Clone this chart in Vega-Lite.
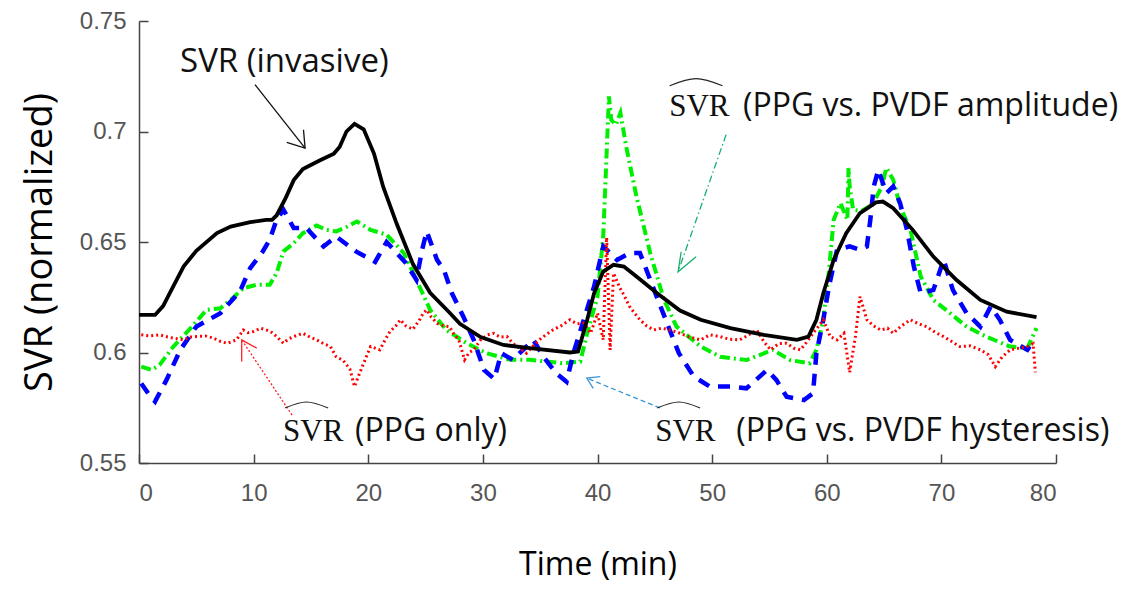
{
"$schema": "https://vega.github.io/schema/vega-lite/v6.json",
"width": 917, "height": 442,
"autosize": {"type": "none"},
"padding": {"left": 139, "top": 21, "right": 79, "bottom": 126},
"background": "white",
"config": {"view": {"stroke": null}},
"datasets": {
"inv": [
{"t":0,"v":0.617},{"t":1.4,"v":0.617},{"t":2.1,"v":0.621},{"t":3.0,"v":0.630},{"t":3.9,"v":0.639},{"t":5.0,"v":0.646},{"t":6.8,"v":0.654},{"t":8.0,"v":0.657},{"t":9.7,"v":0.659},{"t":11.1,"v":0.660},{"t":11.6,"v":0.660},{"t":12.0,"v":0.662},{"t":12.8,"v":0.670},{"t":13.5,"v":0.678},{"t":14.3,"v":0.683},{"t":15.8,"v":0.687},{"t":17.0,"v":0.690},{"t":17.5,"v":0.693},{"t":18.1,"v":0.700},{"t":18.8,"v":0.7035},{"t":19.6,"v":0.701},{"t":20.5,"v":0.690},{"t":21.3,"v":0.675},{"t":22.5,"v":0.658},{"t":23.9,"v":0.640},{"t":25.4,"v":0.627},{"t":27.1,"v":0.618},{"t":28.0,"v":0.613},{"t":29.8,"v":0.607},{"t":31.8,"v":0.6034},{"t":34.1,"v":0.602},{"t":37.6,"v":0.600},{"t":38.3,"v":0.6004},{"t":39.1,"v":0.6148},{"t":39.7,"v":0.6268},{"t":40.5,"v":0.6366},{"t":41.4,"v":0.6397},{"t":42.3,"v":0.6389},{"t":43.4,"v":0.6344},{"t":45.2,"v":0.6268},{"t":47.2,"v":0.619},{"t":49.0,"v":0.6148},{"t":51.6,"v":0.611},{"t":54.5,"v":0.608},{"t":57.4,"v":0.6057},{"t":58.4,"v":0.6072},{"t":59.1,"v":0.6148},{"t":59.7,"v":0.6268},{"t":60.6,"v":0.6419},{"t":61.7,"v":0.654},{"t":62.9,"v":0.6631},{"t":64.3,"v":0.6679},{"t":64.9,"v":0.6683},{"t":65.8,"v":0.6653},{"t":67.5,"v":0.6555},{"t":69.3,"v":0.6434},{"t":71.3,"v":0.6329},{"t":73.4,"v":0.6238},{"t":75.7,"v":0.6185},{"t":78.3,"v":0.616}
],
"amp": [
{"t":0.2,"v":0.5936},{"t":1.1,"v":0.5921},{"t":1.8,"v":0.5944},{"t":3.0,"v":0.6027},{"t":4.5,"v":0.611},{"t":5.9,"v":0.6193},{"t":7.1,"v":0.620},{"t":8.0,"v":0.6238},{"t":9.1,"v":0.6291},{"t":10.2,"v":0.6306},{"t":11.4,"v":0.6306},{"t":12.0,"v":0.6359},{"t":12.6,"v":0.6457},{"t":13.5,"v":0.6495},{"t":14.3,"v":0.654},{"t":15.5,"v":0.6575},{"t":16.3,"v":0.6555},{"t":17.2,"v":0.6548},{"t":18.2,"v":0.657},{"t":19.0,"v":0.6593},{"t":20.2,"v":0.6555},{"t":21.6,"v":0.6533},{"t":23.1,"v":0.645},{"t":24.2,"v":0.6329},{"t":25.4,"v":0.6193},{"t":26.8,"v":0.6102},{"t":28.6,"v":0.6042},{"t":30.3,"v":0.5997},{"t":32.4,"v":0.5967},{"t":34.1,"v":0.5967},{"t":37.0,"v":0.5951},{"t":38.5,"v":0.5959},{"t":39.1,"v":0.6087},{"t":40.0,"v":0.6253},{"t":40.5,"v":0.6525},{"t":41.0,"v":0.7159},{"t":41.2,"v":0.7053},{"t":41.6,"v":0.703},{"t":42.0,"v":0.7084},{"t":42.5,"v":0.6933},{"t":43.4,"v":0.6706},{"t":44.6,"v":0.645},{"t":45.8,"v":0.6238},{"t":46.9,"v":0.6117},{"t":49.0,"v":0.6027},{"t":50.7,"v":0.5981},{"t":53.0,"v":0.5966},{"t":55.3,"v":0.6012},{"t":56.8,"v":0.5966},{"t":58.5,"v":0.5951},{"t":59.1,"v":0.6012},{"t":59.7,"v":0.6148},{"t":60.2,"v":0.6374},{"t":60.6,"v":0.66},{"t":61.2,"v":0.6676},{"t":61.8,"v":0.66},{"t":61.9,"v":0.6835},{"t":62.0,"v":0.6751},{"t":62.3,"v":0.6646},{"t":63.0,"v":0.664},{"t":64.0,"v":0.667},{"t":64.8,"v":0.675},{"t":65.2,"v":0.6835},{"t":65.8,"v":0.6782},{"t":66.4,"v":0.6661},{"t":67.3,"v":0.6555},{"t":68.2,"v":0.6344},{"t":69.3,"v":0.6238},{"t":70.4,"v":0.6193},{"t":72.2,"v":0.6117},{"t":73.9,"v":0.6072},{"t":76.0,"v":0.6027},{"t":77.5,"v":0.602},{"t":78.3,"v":0.611}
],
"hys": [
{"t":0.2,"v":0.586},{"t":1.0,"v":0.580},{"t":1.4,"v":0.5778},{"t":2.4,"v":0.5876},{"t":3.6,"v":0.6012},{"t":5.0,"v":0.6117},{"t":7.1,"v":0.6178},{"t":8.8,"v":0.6276},{"t":9.7,"v":0.6382},{"t":10.8,"v":0.6457},{"t":11.4,"v":0.651},{"t":12.0,"v":0.660},{"t":12.6,"v":0.6646},{"t":13.5,"v":0.6563},{"t":14.6,"v":0.6563},{"t":16.1,"v":0.648},{"t":17.2,"v":0.6525},{"t":19.0,"v":0.6455},{"t":20.6,"v":0.641},{"t":21.6,"v":0.650},{"t":23.3,"v":0.6404},{"t":24.2,"v":0.6329},{"t":24.7,"v":0.6465},{"t":25.1,"v":0.6548},{"t":26.0,"v":0.6419},{"t":26.6,"v":0.6374},{"t":27.3,"v":0.6268},{"t":28.3,"v":0.6162},{"t":29.2,"v":0.6057},{"t":30.1,"v":0.5921},{"t":31.0,"v":0.588},{"t":31.6,"v":0.5997},{"t":32.6,"v":0.5967},{"t":34.4,"v":0.6057},{"t":35.3,"v":0.598},{"t":36.4,"v":0.5906},{"t":37.3,"v":0.5868},{"t":37.9,"v":0.5997},{"t":38.8,"v":0.6148},{"t":39.7,"v":0.6298},{"t":40.5,"v":0.648},{"t":41.1,"v":0.645},{"t":41.7,"v":0.6419},{"t":42.8,"v":0.645},{"t":43.7,"v":0.645},{"t":44.6,"v":0.6329},{"t":45.5,"v":0.6208},{"t":46.3,"v":0.6102},{"t":47.1,"v":0.5997},{"t":48.4,"v":0.5891},{"t":49.8,"v":0.5846},{"t":51.6,"v":0.5846},{"t":53.0,"v":0.5838},{"t":54.8,"v":0.5921},{"t":55.6,"v":0.5876},{"t":56.5,"v":0.580},{"t":58.0,"v":0.5785},{"t":58.8,"v":0.5815},{"t":59.1,"v":0.5997},{"t":59.7,"v":0.6148},{"t":60.2,"v":0.630},{"t":60.9,"v":0.6465},{"t":62.0,"v":0.648},{"t":62.9,"v":0.6465},{"t":63.5,"v":0.648},{"t":63.8,"v":0.660},{"t":64.1,"v":0.6751},{"t":64.5,"v":0.6827},{"t":65.2,"v":0.6721},{"t":65.8,"v":0.6751},{"t":66.4,"v":0.6676},{"t":67.0,"v":0.6555},{"t":67.6,"v":0.6389},{"t":68.2,"v":0.6268},{"t":69.3,"v":0.6283},{"t":70.2,"v":0.6419},{"t":71.0,"v":0.6283},{"t":72.2,"v":0.6178},{"t":73.4,"v":0.6117},{"t":74.3,"v":0.6208},{"t":75.1,"v":0.6148},{"t":76.0,"v":0.6057},{"t":77.5,"v":0.6012},{"t":78.1,"v":0.6057}
],
"ppg": [
{"t":0.2,"v":0.608},{"t":1.0,"v":0.6075},{"t":1.8,"v":0.608},{"t":2.5,"v":0.607},{"t":3.0,"v":0.6065},{"t":3.9,"v":0.6057},{"t":4.5,"v":0.607},{"t":5.0,"v":0.6072},{"t":5.8,"v":0.6075},{"t":6.5,"v":0.6065},{"t":7.1,"v":0.605},{"t":7.7,"v":0.6042},{"t":8.5,"v":0.6057},{"t":9.1,"v":0.6102},{"t":9.5,"v":0.609},{"t":10.0,"v":0.6095},{"t":10.6,"v":0.611},{"t":11.1,"v":0.6102},{"t":11.6,"v":0.609},{"t":12.0,"v":0.6072},{"t":12.6,"v":0.6042},{"t":13.0,"v":0.606},{"t":13.5,"v":0.6072},{"t":14.3,"v":0.6087},{"t":14.9,"v":0.607},{"t":15.5,"v":0.6057},{"t":16.1,"v":0.604},{"t":16.7,"v":0.6027},{"t":17.2,"v":0.5981},{"t":17.8,"v":0.5965},{"t":18.4,"v":0.5925},{"t":18.8,"v":0.5846},{"t":19.2,"v":0.590},{"t":19.6,"v":0.5951},{"t":20.2,"v":0.6027},{"t":21.0,"v":0.6012},{"t":21.5,"v":0.606},{"t":21.9,"v":0.6095},{"t":22.4,"v":0.612},{"t":22.8,"v":0.6148},{"t":23.3,"v":0.612},{"t":23.9,"v":0.6105},{"t":24.5,"v":0.615},{"t":24.8,"v":0.6178},{"t":25.1,"v":0.6193},{"t":25.5,"v":0.616},{"t":26.0,"v":0.6132},{"t":26.6,"v":0.612},{"t":27.1,"v":0.6117},{"t":27.5,"v":0.608},{"t":27.9,"v":0.6057},{"t":28.4,"v":0.5967},{"t":28.8,"v":0.600},{"t":29.2,"v":0.6012},{"t":29.8,"v":0.6057},{"t":30.4,"v":0.608},{"t":30.9,"v":0.6087},{"t":31.5,"v":0.607},{"t":32.1,"v":0.6072},{"t":32.6,"v":0.6042},{"t":33.2,"v":0.602},{"t":33.8,"v":0.5997},{"t":34.4,"v":0.603},{"t":34.9,"v":0.6057},{"t":35.5,"v":0.608},{"t":36.1,"v":0.6102},{"t":36.8,"v":0.612},{"t":37.6,"v":0.6148},{"t":38.2,"v":0.613},{"t":38.8,"v":0.6133},{"t":39.4,"v":0.6087},{"t":40.0,"v":0.6178},{"t":40.5,"v":0.6057},{"t":40.8,"v":0.652},{"t":41.1,"v":0.6012},{"t":41.4,"v":0.6359},{"t":41.9,"v":0.6298},{"t":42.3,"v":0.626},{"t":42.8,"v":0.6208},{"t":43.2,"v":0.618},{"t":43.7,"v":0.6148},{"t":44.3,"v":0.612},{"t":44.9,"v":0.6102},{"t":45.6,"v":0.611},{"t":46.3,"v":0.6102},{"t":47.2,"v":0.6087},{"t":48.0,"v":0.607},{"t":49.0,"v":0.6057},{"t":49.8,"v":0.608},{"t":50.7,"v":0.6072},{"t":51.5,"v":0.606},{"t":52.4,"v":0.6057},{"t":53.2,"v":0.608},{"t":53.9,"v":0.6102},{"t":54.5,"v":0.605},{"t":55.1,"v":0.6012},{"t":55.8,"v":0.604},{"t":56.5,"v":0.6042},{"t":57.1,"v":0.602},{"t":57.7,"v":0.6012},{"t":58.3,"v":0.605},{"t":58.8,"v":0.6087},{"t":59.3,"v":0.612},{"t":59.7,"v":0.6148},{"t":60.3,"v":0.6072},{"t":60.9,"v":0.6057},{"t":61.5,"v":0.6087},{"t":62.0,"v":0.591},{"t":62.5,"v":0.6072},{"t":62.9,"v":0.6253},{"t":63.5,"v":0.6148},{"t":64.1,"v":0.612},{"t":64.7,"v":0.6102},{"t":65.3,"v":0.611},{"t":65.8,"v":0.6087},{"t":66.5,"v":0.612},{"t":67.3,"v":0.6148},{"t":68.0,"v":0.613},{"t":68.7,"v":0.6117},{"t":69.5,"v":0.609},{"t":70.2,"v":0.6072},{"t":70.9,"v":0.605},{"t":71.6,"v":0.6027},{"t":72.5,"v":0.603},{"t":73.4,"v":0.6012},{"t":74.1,"v":0.599},{"t":74.7,"v":0.5936},{"t":75.3,"v":0.598},{"t":76.0,"v":0.6012},{"t":76.8,"v":0.602},{"t":77.5,"v":0.6027},{"t":78.0,"v":0.604},{"t":78.2,"v":0.591}
],
"arrows": [
{"id":"k_shaft","o":0,"t":10.12,"v":0.7212,"c":"k"},{"id":"k_shaft","o":1,"t":14.49,"v":0.6925,"c":"k"},
{"id":"k_head","o":0,"t":12.89,"v":0.6951,"c":"k"},{"id":"k_head","o":1,"t":14.49,"v":0.6925,"c":"k"},{"id":"k_head","o":2,"t":14.35,"v":0.7008,"c":"k"},
{"id":"g_shaft","o":0,"t":51.22,"v":0.6986,"c":"g"},{"id":"g_shaft","o":1,"t":47.03,"v":0.6365,"c":"g"},
{"id":"g_head","o":0,"t":48.6,"v":0.6433,"c":"g"},{"id":"g_head","o":1,"t":47.03,"v":0.6365,"c":"g"},{"id":"g_head","o":2,"t":47.3,"v":0.6456,"c":"g"},
{"id":"r_shaft","o":0,"t":13.35,"v":0.5717,"c":"r"},{"id":"r_shaft","o":1,"t":8.96,"v":0.6057,"c":"r"},
{"id":"r_head","o":0,"t":10.27,"v":0.602,"c":"r"},{"id":"r_head","o":1,"t":8.96,"v":0.6057,"c":"r"},{"id":"r_head","o":2,"t":8.96,"v":0.5959,"c":"r"},
{"id":"b_shaft","o":0,"t":45.46,"v":0.5749,"c":"b"},{"id":"b_shaft","o":1,"t":39.06,"v":0.5884,"c":"b"},
{"id":"b_head","o":0,"t":40.24,"v":0.5891,"c":"b"},{"id":"b_head","o":1,"t":39.06,"v":0.5884,"c":"b"},{"id":"b_head","o":2,"t":39.63,"v":0.5838,"c":"b"}
],
"hats": [
{"id":"h1","t":46.3,"v":0.7207},{"id":"h1","t":48.6,"v":0.7239},{"id":"h1","t":50.9,"v":0.7207},
{"id":"h2","t":12.74,"v":0.5749},{"id":"h2","t":14.6,"v":0.5776},{"id":"h2","t":16.5,"v":0.5749},
{"id":"h3","t":45.2,"v":0.5749},{"id":"h3","t":47.1,"v":0.5776},{"id":"h3","t":48.95,"v":0.5749}
],
"serif": [
{"t":46.25,"v":0.7068,"txt":"SVR"},{"t":12.57,"v":0.56,"txt":"SVR"},{"t":45.03,"v":0.56,"txt":"SVR"}
],
"sans": [
{"t":3.58,"v":0.7271,"txt":"SVR (invasive)","s":33},
{"t":52.7,"v":0.7068,"txt":"(PPG vs. PVDF amplitude)","s":32},
{"t":18.85,"v":0.56,"txt":"(PPG only)","s":32},
{"t":52.1,"v":0.56,"txt":"(PPG vs. PVDF hysteresis)","s":32}
]
},
"layer": [
{
"data": {"name": "amp"},
"mark": {"type": "line", "color": "#00ee00", "strokeWidth": 4, "strokeDash": [10, 4, 2, 4]},
"encoding": {
"x": {"field": "t", "type": "quantitative", "scale": {"domain": [0, 80], "nice": false},
"axis": {"values": [0,10,20,30,40,50,60,70,80], "title": "Time (min)", "grid": false,
"domainColor": "#444", "domainWidth": 1.5, "tickColor": "#444", "tickWidth": 1.5, "tickSize": -9,
"labelFont": "Liberation Sans Narrow, Liberation Sans", "labelFontSize": 24, "labelColor": "#555", "labelPadding": 27,
"titleFont": "Open Sans", "titleFontSize": 32, "titleFontWeight": "normal", "titleColor": "#000", "titlePadding": 44}},
"y": {"field": "v", "type": "quantitative", "scale": {"domain": [0.55, 0.75], "nice": false, "zero": false},
"axis": {"values": [0.55,0.6,0.65,0.7,0.75], "format": ".2~f", "title": "SVR (normalized)", "grid": false,
"domainColor": "#444", "domainWidth": 1.5, "tickColor": "#444", "tickWidth": 1.5, "tickSize": -9,
"labelFont": "Liberation Sans", "labelFontSize": 24, "labelColor": "#555", "labelPadding": 22,
"titleFont": "Open Sans", "titleFontSize": 38, "titleFontWeight": "normal", "titleColor": "#000", "titlePadding": 20}}
}
},
{
"data": {"name": "hys"},
"mark": {"type": "line", "color": "#0000ff", "strokeWidth": 4.5, "strokeDash": [12, 9]},
"encoding": {"x": {"field": "t", "type": "quantitative"}, "y": {"field": "v", "type": "quantitative"}}
},
{
"data": {"name": "ppg"},
"mark": {"type": "line", "color": "#ff0000", "strokeWidth": 3, "strokeDash": [2, 3]},
"encoding": {"x": {"field": "t", "type": "quantitative"}, "y": {"field": "v", "type": "quantitative"}}
},
{
"data": {"name": "inv"},
"mark": {"type": "line", "color": "#000000", "strokeWidth": 3.8},
"encoding": {"x": {"field": "t", "type": "quantitative"}, "y": {"field": "v", "type": "quantitative"}}
},
{
"data": {"name": "arrows"},
"transform": [{"filter": "datum.c == 'k'"}],
"mark": {"type": "line", "color": "#111", "strokeWidth": 1.3},
"encoding": {"x": {"field": "t", "type": "quantitative"}, "y": {"field": "v", "type": "quantitative"}, "detail": {"field": "id"}, "order": {"field": "o"}}
},
{
"data": {"name": "arrows"},
"transform": [{"filter": "datum.id == 'g_shaft'"}],
"mark": {"type": "line", "color": "#18b070", "strokeWidth": 1.3, "strokeDash": [7, 3, 1.5, 3]},
"encoding": {"x": {"field": "t", "type": "quantitative"}, "y": {"field": "v", "type": "quantitative"}, "order": {"field": "o"}}
},
{
"data": {"name": "arrows"},
"transform": [{"filter": "datum.id == 'g_head'"}],
"mark": {"type": "line", "color": "#18b070", "strokeWidth": 1.3},
"encoding": {"x": {"field": "t", "type": "quantitative"}, "y": {"field": "v", "type": "quantitative"}, "order": {"field": "o"}}
},
{
"data": {"name": "arrows"},
"transform": [{"filter": "datum.id == 'r_shaft'"}],
"mark": {"type": "line", "color": "#ff2020", "strokeWidth": 1.3, "strokeDash": [2, 2]},
"encoding": {"x": {"field": "t", "type": "quantitative"}, "y": {"field": "v", "type": "quantitative"}, "order": {"field": "o"}}
},
{
"data": {"name": "arrows"},
"transform": [{"filter": "datum.id == 'r_head'"}],
"mark": {"type": "line", "color": "#ff2020", "strokeWidth": 1.3},
"encoding": {"x": {"field": "t", "type": "quantitative"}, "y": {"field": "v", "type": "quantitative"}, "order": {"field": "o"}}
},
{
"data": {"name": "arrows"},
"transform": [{"filter": "datum.id == 'b_shaft'"}],
"mark": {"type": "line", "color": "#3a96d6", "strokeWidth": 1.3, "strokeDash": [5, 3]},
"encoding": {"x": {"field": "t", "type": "quantitative"}, "y": {"field": "v", "type": "quantitative"}, "order": {"field": "o"}}
},
{
"data": {"name": "arrows"},
"transform": [{"filter": "datum.id == 'b_head'"}],
"mark": {"type": "line", "color": "#3a96d6", "strokeWidth": 1.3},
"encoding": {"x": {"field": "t", "type": "quantitative"}, "y": {"field": "v", "type": "quantitative"}, "order": {"field": "o"}}
},
{
"data": {"name": "hats"},
"mark": {"type": "line", "color": "#222", "strokeWidth": 1.2, "interpolate": "monotone"},
"encoding": {"x": {"field": "t", "type": "quantitative"}, "y": {"field": "v", "type": "quantitative"}, "detail": {"field": "id"}}
},
{
"data": {"name": "serif"},
"mark": {"type": "text", "font": "Liberation Serif", "fontSize": 31, "align": "left", "baseline": "alphabetic", "color": "#111"},
"encoding": {"x": {"field": "t", "type": "quantitative"}, "y": {"field": "v", "type": "quantitative"}, "text": {"field": "txt"}}
},
{
"data": {"name": "sans"},
"mark": {"type": "text", "font": "Open Sans", "align": "left", "baseline": "alphabetic", "color": "#111"},
"encoding": {"x": {"field": "t", "type": "quantitative"}, "y": {"field": "v", "type": "quantitative"}, "text": {"field": "txt"}, "size": {"field": "s", "type": "quantitative", "scale": null}}
}
]
}
